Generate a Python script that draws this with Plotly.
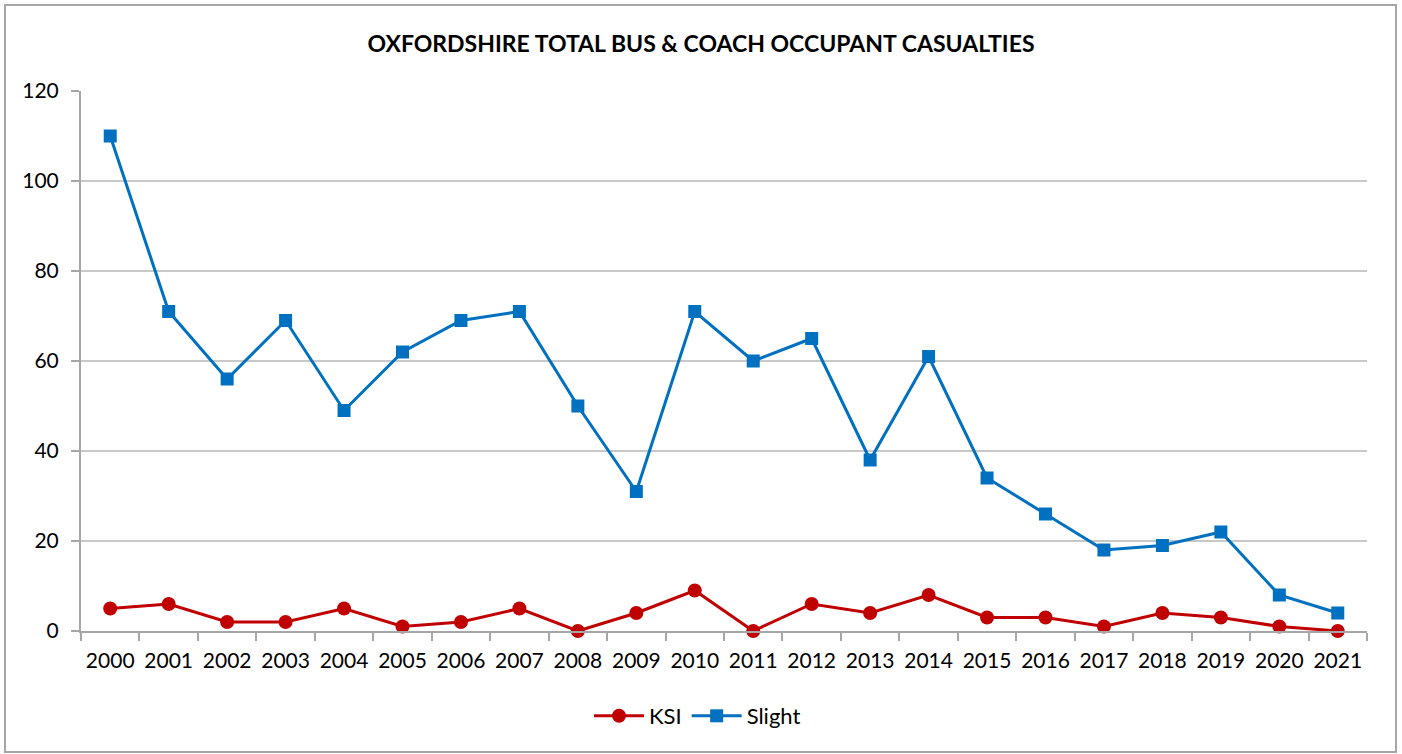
import plotly.graph_objects as go

years = [str(y) for y in range(2000, 2022)]
ksi = [5, 6, 2, 2, 5, 1, 2, 5, 0, 4, 9, 0, 6, 4, 8, 3, 3, 1, 4, 3, 1, 0]
slight = [110, 71, 56, 69, 49, 62, 69, 71, 50, 31, 71, 60, 65, 38, 61, 34, 26, 18, 19, 22, 8, 4]

FONT = "Lato"
W, H = 1402, 754
L, R, T, B = 81, 35, 91, 123
pw, ph = W - L - R, H - T - B

fig = go.Figure()
fig.add_trace(go.Scatter(x=years, y=ksi, name="KSI", mode="lines+markers",
                         line=dict(color="#C00000", width=3),
                         marker=dict(symbol="circle", size=14, color="#C00000"),
                         cliponaxis=False))
fig.add_trace(go.Scatter(x=years, y=slight, name="Slight", mode="lines+markers",
                         line=dict(color="#0070C0", width=3),
                         marker=dict(symbol="square", size=13, color="#0070C0"),
                         cliponaxis=False))

def px_x(p):
    return (p - L) / pw

def px_y(p):
    return (H - B - p) / ph

fig.add_shape(type="rect", xref="paper", yref="paper",
              x0=px_x(5), x1=px_x(1396), y0=px_y(752), y1=px_y(5),
              line=dict(color="#A6A6A6", width=2), layer="below")

fig.update_layout(
    width=W, height=H,
    margin=dict(l=L, r=R, t=T, b=B),
    paper_bgcolor="white", plot_bgcolor="white",
    font=dict(family=FONT, size=21, color="black"),
    title=dict(text="<b>OXFORDSHIRE TOTAL BUS & COACH OCCUPANT CASUALTIES</b>",
               x=0.5, xanchor="center", y=1 - 44 / H, yanchor="middle",
               font=dict(family=FONT, size=23, color="black")),
    showlegend=True,
    legend=dict(orientation="h", x=px_x(589), xanchor="left", y=px_y(716), yanchor="middle",
                font=dict(family=FONT, size=22), itemwidth=50),
    xaxis=dict(type="category", range=[-0.5, 21.5], showline=True, linecolor="#A6A6A6",
               linewidth=2, ticks="outside", tickson="boundaries", ticklen=8,
               tickcolor="#A6A6A6", tickwidth=2, showgrid=False, zeroline=False,
               tickangle=0, tickfont=dict(family=FONT, size=21), ticklabelstandoff=10),
    yaxis=dict(range=[0, 120], dtick=20, showline=True, linecolor="#A6A6A6", linewidth=2,
               ticks="outside", ticklen=8, tickcolor="#A6A6A6", tickwidth=2,
               showgrid=True, gridcolor="#C8C8C8", gridwidth=1.5, zeroline=False,
               tickfont=dict(family=FONT, size=21), ticklabelstandoff=8),
)

fig.write_html("out.html", config={"displayModeBar": False},
               post_script="document.body.style.margin='0';")
